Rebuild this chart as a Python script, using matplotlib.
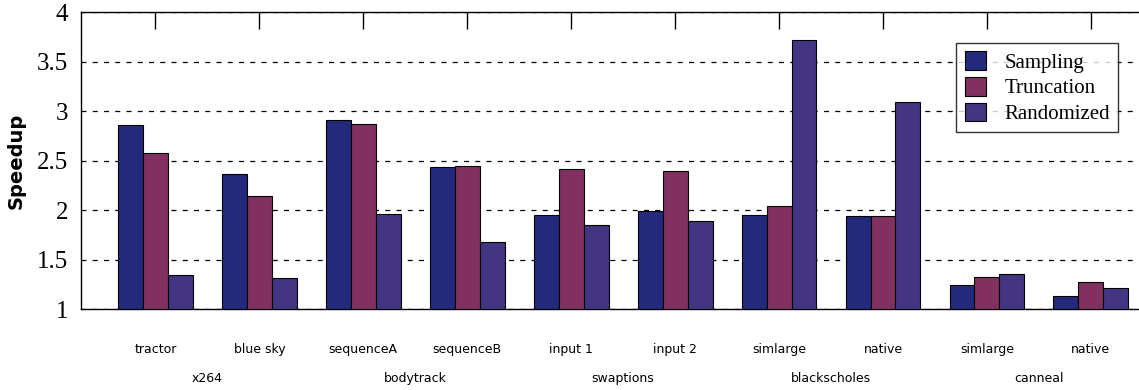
import numpy as np
import matplotlib.pyplot as plt
from matplotlib import transforms

inputs = ['tractor', 'blue sky', 'sequenceA', 'sequenceB', 'input 1',
          'input 2', 'simlarge', 'native', 'simlarge', 'native']
benchmarks = ['x264', 'bodytrack', 'swaptions', 'blackscholes', 'canneal']

sampling = [2.86, 2.37, 2.91, 2.44, 1.95, 1.99, 1.95, 1.94, 1.25, 1.13]
truncation = [2.58, 2.14, 2.87, 2.45, 2.42, 2.40, 2.04, 1.94, 1.33, 1.28]
randomized = [1.35, 1.32, 1.96, 1.68, 1.85, 1.89, 3.72, 3.09, 1.36, 1.21]

colors = ['#232a7c', '#82305f', '#433582']

fig = plt.figure(figsize=(11.39, 3.9), dpi=100)
ax = fig.add_axes([0.0711, 0.207, 0.935, 0.762])

x = np.arange(len(inputs))
w = 0.24
for i, (vals, name) in enumerate(zip([sampling, truncation, randomized],
                                     ['Sampling', 'Truncation', 'Randomized'])):
    ax.bar(x + (i - 1) * w, np.array(vals) - 1, w, bottom=1, color=colors[i],
           edgecolor='black', linewidth=0.8, label=name, zorder=3)

ax.set_xlim(-0.716, 9.53)
ax.set_ylim(1, 4)
ax.set_yticks([1, 1.5, 2, 2.5, 3, 3.5, 4])
ax.set_yticklabels(['1', '1.5', '2', '2.5', '3', '3.5', '4'],
                   fontfamily='Liberation Serif', fontsize=18)
ax.yaxis.grid(True, linestyle=(0, (4, 5)), color='black', linewidth=0.9, zorder=0)

ax.set_xticks(x)
ax.set_xticklabels(inputs, fontsize=9)
ax.tick_params(axis='x', top=True, bottom=False, direction='in', length=12,
               width=1, pad=24)
ax.tick_params(axis='y', direction='in', length=0, pad=9)

ax.spines['right'].set_visible(False)
for s in ['top', 'left', 'bottom']:
    ax.spines[s].set_linewidth(1.0)

trans = transforms.blended_transform_factory(ax.transData, ax.transAxes)
for k, b in enumerate(benchmarks):
    ax.text(2 * k + 0.5, -0.232, b, transform=trans, ha='center', va='center',
            fontsize=9)

ax.set_ylabel('Speedup', fontsize=14, fontweight='bold', labelpad=8)

leg = ax.legend(loc='upper right', bbox_to_anchor=(0.974, 0.896),
                prop={'family': 'Liberation Serif', 'size': 15},
                frameon=True, fancybox=False, edgecolor='black',
                handlelength=1.0, handleheight=1.0, handletextpad=0.9,
                labelspacing=0.2, borderpad=0.4, borderaxespad=0)
leg.get_frame().set_linewidth(1.0)

fig.savefig('out.png', dpi=100)
